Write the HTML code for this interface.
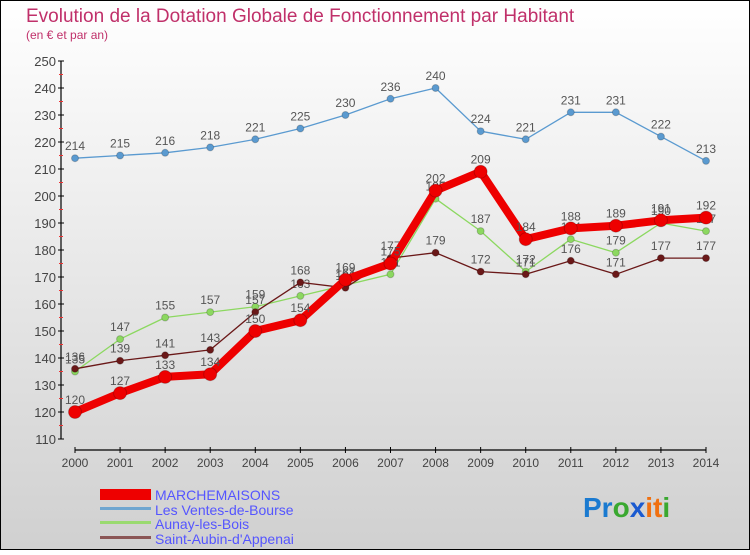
<!DOCTYPE html>
<html><head><meta charset="utf-8"><style>
html,body{margin:0;padding:0}
body{width:750px;height:550px;overflow:hidden;font-family:"Liberation Sans",sans-serif}
</style></head><body>
<svg id="chart" width="750" height="550" viewBox="0 0 750 550" xmlns="http://www.w3.org/2000/svg" font-family="Liberation Sans, sans-serif">
<defs><linearGradient id="bg" x1="0" y1="0" x2="0" y2="1"><stop offset="0" stop-color="#ffffff"/><stop offset="1" stop-color="#d0d0d0"/></linearGradient></defs>
<rect x="0.5" y="0.5" width="749" height="549" fill="url(#bg)" stroke="#000"/>
<text x="26" y="22" font-size="19" fill="#c0306a">Evolution de la Dotation Globale de Fonctionnement par Habitant</text>
<text x="26" y="39" font-size="12" fill="#c0306a">(en € et par an)</text>
<g id="axes"></g>
<g id="series"></g>
<g id="legend">
<rect x="100" y="489" width="51" height="11" fill="#e00"/>
<text x="155" y="500" font-size="14" fill="#5555ff">MARCHEMAISONS</text>
<rect x="100" y="507" width="51" height="3" fill="#6fa6d0"/>
<text x="155" y="515" font-size="14" fill="#5555ff">Les Ventes-de-Bourse</text>
<rect x="100" y="521" width="51" height="3" fill="#9ada70"/>
<text x="155" y="529" font-size="14" fill="#5555ff">Aunay-les-Bois</text>
<rect x="100" y="536" width="51" height="3" fill="#8a5555"/>
<text x="155" y="544" font-size="14" fill="#5555ff">Saint-Aubin-d'Appenai</text>
</g>
<g font-size="28" font-weight="bold">
<text x="583" y="517"><tspan fill="#1a7ad0">Pr</tspan><tspan fill="#3aa830">o</tspan><tspan fill="#1a5ad0">x</tspan><tspan fill="#f07010">it</tspan><tspan fill="#3aa830">i</tspan></text>
</g>
</svg>
<script>
const years=[2000,2001,2002,2003,2004,2005,2006,2007,2008,2009,2010,2011,2012,2013,2014];
const marchemaisons=[120,127,133,134,150,154,169,175,202,209,184,188,189,191,192];
const ventes=[214,215,216,218,221,225,230,236,240,224,221,231,231,222,213];
const aunay=[135,147,155,157,159,163,167,171,199,187,172,184,179,190,187];
const saintAubin=[136,139,141,143,157,168,166,177,179,172,171,176,171,177,177];
const yTicks=[110,120,130,140,150,160,170,180,190,200,210,220,230,240,250];
const NS="http://www.w3.org/2000/svg";
const x=i=>75+i*(706-75)/14;
const y=v=>61+(250-v)*2.7;
function mk(tag,attrs,parent,txt){const e=document.createElementNS(NS,tag);for(const k in attrs)e.setAttribute(k,attrs[k]);if(txt!==undefined)e.textContent=txt;parent.appendChild(e);return e;}
const ax=document.getElementById('axes');
let l=mk('line',{x1:61,y1:61,x2:61,y2:439,stroke:'#000','stroke-width':1.2},ax);


yTicks.forEach(v=>{
 mk('line',{x1:58,x2:64,y1:y(v),y2:y(v),stroke:'#000'},ax);
 if(v<250)mk('line',{x1:59,x2:63,y1:y(v+5),y2:y(v+5),stroke:'#e33'},ax);
 const t=mk('text',{x:56,y:y(v)+5,'font-size':13,fill:'#444','text-anchor':'end'},ax,String(v));
 
 
});
l=mk('line',{x1:75,y1:450,x2:706,y2:450,stroke:'#000','stroke-width':1.2},ax);


years.forEach((yr,i)=>{
 mk('line',{x1:x(i),x2:x(i),y1:447,y2:453,stroke:'#000'},ax);
 const t=mk('text',{x:x(i),y:467,'font-size':12,fill:'#444','text-anchor':'middle'},ax,String(yr));
 
 
});
const sg=document.getElementById('series');
function series(name,data,color,w,r,labelColor){
 const g=mk('g',{},sg);
 
 
 const p=mk('polyline',{points:data.map((v,i)=>x(i)+','+y(v)).join(' '),fill:'none',stroke:color,'stroke-width':w,'stroke-linejoin':'round'},g);
 
 
 data.forEach((v,i)=>{
  const c=mk('circle',{cx:x(i),cy:y(v),r:r,fill:color,stroke:'rgba(0,0,0,0.2)'},g);
  
  
  const t=mk('text',{x:x(i),y:y(v)-8,'font-size':12,fill:'#555','text-anchor':'middle'},g,String(v));
  
  
 });
}
series('ventes',ventes,'#5a9ad0',1.3,3.5);
series('aunay',aunay,'#8cd860',1.3,3.5);
series('saint-aubin',saintAubin,'#6a1818',1.3,3.5);
series('marchemaisons',marchemaisons,'#ee0000',8,6.5);
</script>
</body></html>
